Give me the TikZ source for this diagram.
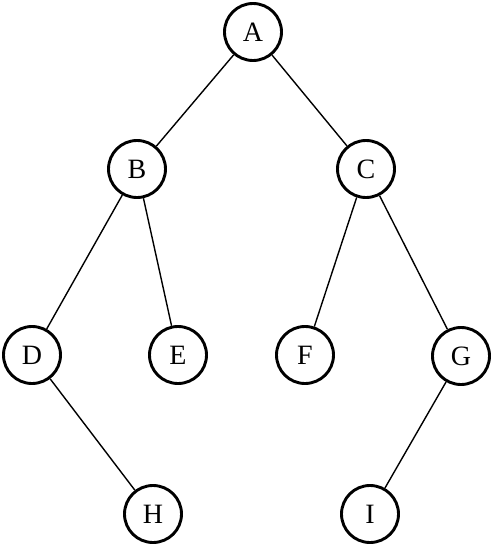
\documentclass[tikz,border=0pt]{standalone}
\usepackage{fontspec}
\setmainfont{Liberation Serif}
\begin{document}
\begin{tikzpicture}[x=1pt,y=-1pt,
  tnode/.style={circle,draw,line width=2.9pt,minimum size=57pt,inner sep=0pt,font=\fontsize{28}{28}\selectfont},
  tedge/.style={line width=1.4pt}]
\useasboundingbox (0,0) rectangle (493,546);
\node[tnode] (A) at (253,32) {A};
\node[tnode] (B) at (137,169) {B};
\node[tnode] (C) at (366,169) {C};
\node[tnode] (D) at (32,355) {D};
\node[tnode] (E) at (178,355) {E};
\node[tnode] (F) at (305,355) {F};
\node[tnode] (G) at (461,356) {G};
\node[tnode] (H) at (153,514) {H};
\node[tnode] (I) at (370,514) {I};
\draw[tedge] (A) -- (B);
\draw[tedge] (A) -- (C);
\draw[tedge] (B) -- (D);
\draw[tedge] (B) -- (E);
\draw[tedge] (C) -- (F);
\draw[tedge] (C) -- (G);
\draw[tedge] (D) -- (H);
\draw[tedge] (G) -- (I);
\end{tikzpicture}
\end{document}
